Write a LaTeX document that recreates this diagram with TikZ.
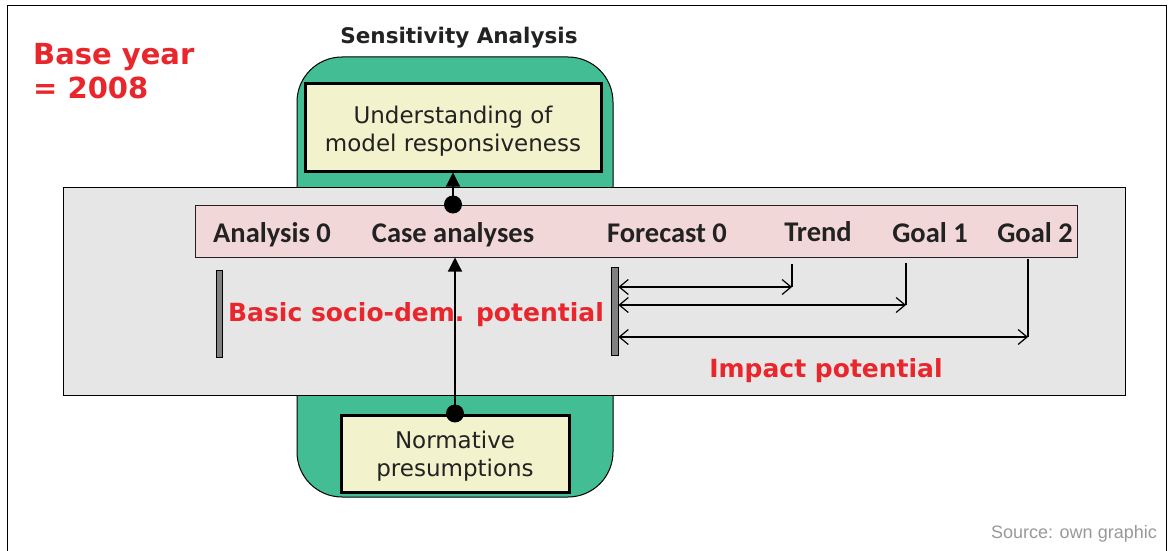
\documentclass[tikz,border=0pt]{standalone}
\usepackage{fontspec}
\setmainfont{DejaVu Sans}
\newfontfamily\calfont{Carlito}
\newfontfamily\srcfont{Liberation Sans}
\usetikzlibrary{arrows.meta}
\definecolor{sgreen}{HTML}{42BD94}
\definecolor{sbox}{HTML}{F2F2CC}
\definecolor{spink}{HTML}{F2D7D8}
\definecolor{sgray}{HTML}{E6E6E6}
\definecolor{sred}{HTML}{E8262B}
\definecolor{sdark}{HTML}{222222}
\definecolor{sbar}{HTML}{808080}
\tikzset{
  ybox/.style={draw=black, line width=3pt, fill=sbox, inner sep=0pt},
  boxtext/.style={align=center, text=sdark, font=\fontsize{23}{28}\selectfont, inner sep=0pt},
  lbl/.style={font=\calfont\bfseries\fontsize{28.5}{30}\selectfont, text=sdark, inner sep=0pt, anchor=base},
  redlbl/.style={font=\bfseries\fontsize{25}{30}\selectfont, text=sred, inner sep=0pt},
  barnode/.style={draw=black, line width=0.8pt, fill=sbar, inner sep=0pt},
  conn/.style={line width=1.2pt},
  twoway/.style={line width=1.2pt, {Straight Barb[length=9pt,width=15pt]}-{Straight Barb[length=9pt,width=15pt]}},
  uparrow/.style={line width=1.2pt, -{Triangle[length=14pt,width=14pt]}},
}
\begin{document}
\begin{tikzpicture}[x=1pt,y=-1pt]
\useasboundingbox (0,0) rectangle (1168,551);
\fill[white] (0,0) rectangle (1168,551);
% outer frame
\draw[line width=1pt] (7,556) -- (7,6) -- (1166,6) -- (1166,556);
% title texts
\node[font=\bfseries\fontsize{29}{34}\selectfont, text=sred, align=left, anchor=north west, inner sep=0pt] (base) at (33,43) {Base year\\= 2008};
\node[font=\bfseries\fontsize{21.5}{25}\selectfont, text=sdark, inner sep=0pt] (sens) at (459,38) {Sensitivity Analysis};
% green shape
\draw[fill=sgreen, line width=1pt, rounded corners=45pt] (297,57) rectangle (613,497);
% grey band
\node[draw=black, line width=1pt, fill=sgray, minimum width=1062pt, minimum height=208pt, inner sep=0pt] (grey) at (594,291) {};
% pink band
\node[draw=sdark, line width=1pt, fill=spink, minimum width=882pt, minimum height=52pt, inner sep=0pt] (band) at (636,231) {};
% boxes
\node[ybox, minimum width=296pt, minimum height=87pt] (und) at (453,127.5) {};
\node[boxtext] (undtext) at (453,131) {Understanding of\\model responsiveness};
\node[ybox, minimum width=228pt, minimum height=77pt] (norm) at (455,453.5) {};
\node[boxtext] (normtext) at (455,456) {Normative\\presumptions};
% band labels
\node[lbl] (a0) at (272,242) {Analysis 0};
\node[lbl] (ca) at (453,242) {Case analyses};
\node[lbl] (f0) at (667,242) {Forecast 0};
\node[lbl] (tr) at (818,241) {Trend};
\node[lbl] (g1) at (930,242) {Goal 1};
\node[lbl] (g2) at (1035,242) {Goal 2};
% bars
\node[barnode, minimum width=6pt, minimum height=87pt] (bar0) at (219,313.5) {};
\node[barnode, minimum width=7pt, minimum height=88pt] (barF) at (614.5,311) {};
% red labels
\node[redlbl] (basic) at (416,315) {Basic socio-dem. potential};
\node[redlbl] (impact) at (826,371) {Impact potential};
\node[font=\srcfont\fontsize{18}{20}\selectfont, text=black!40, anchor=east, inner sep=0pt] (src) at (1157,534) {Source: own graphic};
% arrows up
\coordinate (nt) at (norm.north);
\coordinate (bt) at (band.north -| und.south);
\draw[uparrow] (nt) -- (nt |- band.south);
\fill (nt) circle (9pt);
\draw[uparrow] (bt) -- (und.south);
\fill (bt) circle (9pt);
% impact arrows
\coordinate (tTop) at (792,264);
\coordinate (tBot) at (792,287);
\coordinate (aTop) at (906,263);
\coordinate (aBot) at (906,305);
\coordinate (bTop) at (1028,259);
\coordinate (bBot) at (1028,337);
\draw[conn] (tTop) -- (tBot);
\draw[conn] (aTop) -- (aBot);
\draw[conn] (bTop) -- (bBot);
\draw[twoway] (barF.east |- tBot) -- (tBot);
\draw[twoway] (barF.east |- aBot) -- (aBot);
\draw[twoway] (barF.east |- bBot) -- (bBot);
\end{tikzpicture}
\end{document}
